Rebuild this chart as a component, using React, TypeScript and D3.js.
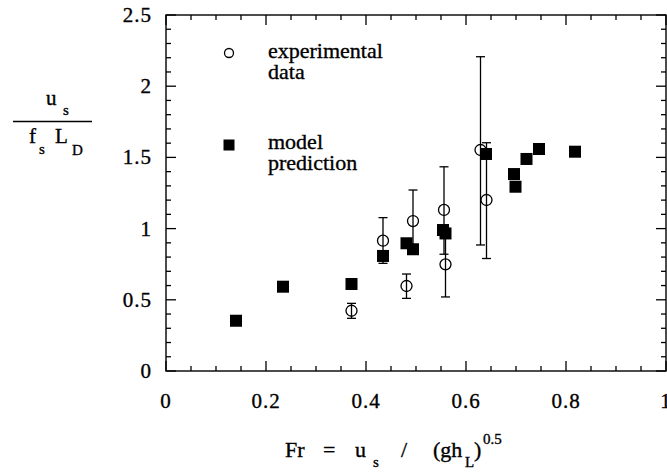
import React from "react";
import * as d3 from "d3";

const expX = [0.371, 0.434, 0.481, 0.494, 0.556, 0.559, 0.629, 0.641];
const expY = [0.423, 0.915, 0.597, 1.053, 1.131, 0.749, 1.552, 1.201];
const expLo = [0.37, 0.756, 0.51, 0.86, 0.82, 0.52, 0.885, 0.79];
const expHi = [0.475, 1.077, 0.681, 1.271, 1.434, 0.98, 2.207, 1.603];

const modelX = [0.14, 0.234, 0.371, 0.434, 0.481, 0.494, 0.554, 0.559, 0.64, 0.696, 0.699, 0.721, 0.746, 0.818];
const modelY = [0.353, 0.592, 0.611, 0.808, 0.897, 0.855, 0.99, 0.966, 1.524, 1.383, 1.294, 1.489, 1.559, 1.54];

const xTickLabels = ["0", "0.2", "0.4", "0.6", "0.8", "1"];
const yTickLabels = ["0", "0.5", "1", "1.5", "2", "2.5"];

const W = 667;
const H = 472;
const L = 166, R = 666, T = 15, B = 371;
const FONT = "Liberation Serif, Times New Roman, Times, DejaVu Serif, serif";

export default function App() {
  const x = d3.scaleLinear().domain([0, 1]).range([L, R]);
  const y = d3.scaleLinear().domain([0, 2.5]).range([B, T]);
  const xMinor = d3.range(0, 1.0001, 0.05);
  const yMinor = d3.range(0, 2.5001, 0.1);
  const isMajX = (v: number) => Math.abs(v * 5 - Math.round(v * 5)) < 1e-6;
  const isMajY = (v: number) => Math.abs(v * 2 - Math.round(v * 2)) < 1e-6;
  const sq = 12;
  const cap = 4.5;
  const ts: React.CSSProperties = { fontFamily: FONT, stroke: "#000", strokeWidth: 0.35 };
  return (
    <div style={{ position: "absolute", left: 0, top: 0 }}>
      <svg width={W} height={H} style={{ display: "block", background: "#fff", fontFamily: FONT }}>
        <rect x={0} y={0} width={W} height={H} fill="#fff" />
        {xMinor.map((v, i) => {
          const len = isMajX(v) ? 10 : 5;
          return (
            <g key={"xt" + i} stroke="#000" strokeWidth={1.3}>
              <line x1={x(v)} x2={x(v)} y1={B} y2={B - len} />
              <line x1={x(v)} x2={x(v)} y1={T} y2={T + len} />
            </g>
          );
        })}
        {yMinor.map((v, i) => {
          const len = isMajY(v) ? 10 : 5;
          return (
            <g key={"yt" + i} stroke="#000" strokeWidth={1.3}>
              <line x1={L} x2={L + len} y1={y(v)} y2={y(v)} />
              <line x1={R} x2={R - len} y1={y(v)} y2={y(v)} />
            </g>
          );
        })}
        <rect x={L} y={T} width={R - L} height={B - T} fill="none" stroke="#000" strokeWidth={1.4} />
        {xTickLabels.map((t, i) => (
          <text key={"xl" + i} style={ts} x={x(i * 0.2)} y={408} textAnchor="middle" fontSize={21} letterSpacing={1}>
            {t}
          </text>
        ))}
        {yTickLabels.map((t, i) => (
          <text key={"yl" + i} style={ts} x={152} y={y(i * 0.5) + 7} textAnchor="end" fontSize={21} letterSpacing={1}>
            {t}
          </text>
        ))}
        {expX.map((v, i) => (
          <g key={"eb" + i} stroke="#000" strokeWidth={1.3}>
            <line x1={x(v)} x2={x(v)} y1={y(expLo[i])} y2={y(expHi[i])} />
            <line x1={x(v) - cap} x2={x(v) + cap} y1={y(expLo[i])} y2={y(expLo[i])} />
            <line x1={x(v) - cap} x2={x(v) + cap} y1={y(expHi[i])} y2={y(expHi[i])} />
          </g>
        ))}
        {expX.map((v, i) => (
          <circle key={"c" + i} cx={x(v)} cy={y(expY[i])} r={5.5} fill="none" stroke="#000" strokeWidth={1.3} />
        ))}
        {modelX.map((v, i) => (
          <rect key={"s" + i} x={x(v) - sq / 2} y={y(modelY[i]) - sq / 2} width={sq} height={sq} fill="#000" />
        ))}
        <circle cx={229} cy={53} r={4.5} fill="none" stroke="#000" strokeWidth={1.3} />
        <text style={ts} x={268} y={58} fontSize={22}>experimental</text>
        <text style={ts} x={268} y={79} fontSize={22}>data</text>
        <rect x={229 - 5.5} y={145 - 5.5} width={11} height={11} fill="#000" />
        <text style={ts} x={268} y={149} fontSize={22}>model</text>
        <text style={ts} x={268} y={170} fontSize={22}>prediction</text>
        <text style={ts} x={46} y={105} fontSize={21}>u</text>
        <text style={ts} x={63} y={115} fontSize={15}>s</text>
        <line x1={13} x2={92} y1={121.5} y2={121.5} stroke="#000" strokeWidth={1.4} />
        <text style={ts} x={29} y={143} fontSize={21}>f</text>
        <text style={ts} x={39} y={154} fontSize={15}>s</text>
        <text style={ts} x={55} y={143} fontSize={21}>L</text>
        <text style={ts} x={72} y={155} fontSize={15}>D</text>
        <text style={ts} x={285} y={457} fontSize={22}>Fr</text>
        <text style={ts} x={323} y={457} fontSize={22}>=</text>
        <text style={ts} x={355} y={457} fontSize={22}>u</text>
        <text style={ts} x={373} y={467} fontSize={15}>s</text>
        <text style={ts} x={401} y={457} fontSize={22}>/</text>
        <text style={ts} x={433} y={457} fontSize={22}>(gh</text>
        <text style={ts} x={465} y={467} fontSize={15}>L</text>
        <text style={ts} x={474} y={457} fontSize={22}>)</text>
        <text style={ts} x={483} y={444} fontSize={15}>0.5</text>
      </svg>
    </div>
  );
}
